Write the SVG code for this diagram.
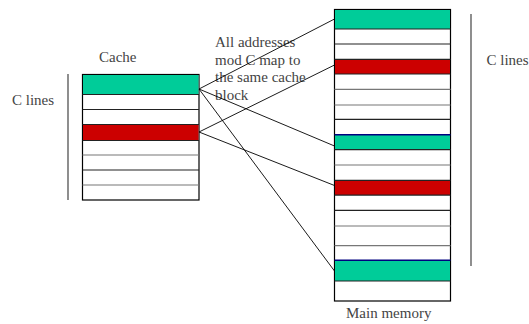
<svg xmlns="http://www.w3.org/2000/svg" width="529" height="324" viewBox="0 0 529 324">
  <style>
    .lbl { font-family: "Liberation Serif", "Times New Roman", serif; font-size: 15px; fill: #444; }
    .box { fill: #fff; stroke: #000; stroke-width: 1.2; }
    .green { fill: #00CC99; }
    .red { fill: #CC0000; }
    .sep { stroke: #222; stroke-width: 1.2; }
    .sepg { stroke: #777; stroke-width: 1.2; }
    .blue { stroke: #000080; stroke-width: 1.4; }
    .bar { stroke: #444; stroke-width: 1.2; }
    .conn { stroke: #000; stroke-width: 0.9; fill: none; }
  </style>
  <rect width="529" height="324" fill="#fff"/>

  <!-- cache -->
  <g id="cache">
    <rect class="box" x="82.5" y="74.5" width="116.5" height="125.5"/>
    <rect class="green" x="83" y="75" width="115.5" height="19"/>
    <rect class="red" x="83" y="125" width="115.5" height="15"/>
    <line class="sep" x1="82.5" y1="94.5" x2="199" y2="94.5"/>
    <line class="sep" x1="82.5" y1="109.5" x2="199" y2="109.5"/>
    <line class="sep" x1="82.5" y1="124.5" x2="199" y2="124.5"/>
    <line class="sep" x1="82.5" y1="140.5" x2="199" y2="140.5"/>
    <line class="sepg" x1="82.5" y1="155" x2="199" y2="155"/>
    <line class="sep" x1="82.5" y1="170" x2="199" y2="170"/>
    <line class="sepg" x1="82.5" y1="185" x2="199" y2="185"/>
    <text class="lbl" x="99" y="62">Cache</text>
  </g>

  <g id="cache-size">
    <line class="bar" x1="68" y1="74" x2="68" y2="200"/>
    <text class="lbl" x="12" y="105">C lines</text>
  </g>

  <!-- main memory -->
  <g id="main-memory">
    <rect class="box" x="334.5" y="9.5" width="116" height="291.5"/>
    <rect class="green" x="335" y="10" width="115" height="19"/>
    <rect class="red" x="335" y="59.5" width="115" height="14.5"/>
    <rect class="green" x="335" y="135" width="115" height="14.5"/>
    <rect class="red" x="335" y="180.5" width="115" height="14.5"/>
    <rect class="green" x="335" y="260.5" width="115" height="20.5"/>
    <line class="sep" x1="334.5" y1="29" x2="450.5" y2="29"/>
    <line class="sep" x1="334.5" y1="44" x2="450.5" y2="44"/>
    <line class="sep" x1="334.5" y1="59.3" x2="450.5" y2="59.3"/>
    <line class="sep" x1="334.5" y1="74" x2="450.5" y2="74"/>
    <line class="sepg" x1="334.5" y1="89.3" x2="450.5" y2="89.3"/>
    <line class="sepg" x1="334.5" y1="105" x2="450.5" y2="105"/>
    <line class="sep" x1="334.5" y1="119.3" x2="450.5" y2="119.3"/>
    <line class="blue" x1="334.5" y1="134.7" x2="450.5" y2="134.7"/>
    <line class="sep" x1="334.5" y1="149.7" x2="450.5" y2="149.7"/>
    <line class="sepg" x1="334.5" y1="165" x2="450.5" y2="165"/>
    <line class="sep" x1="334.5" y1="180.3" x2="450.5" y2="180.3"/>
    <line class="sep" x1="334.5" y1="195.2" x2="450.5" y2="195.2"/>
    <line class="sep" x1="334.5" y1="210.3" x2="450.5" y2="210.3"/>
    <line class="sepg" x1="334.5" y1="226" x2="450.5" y2="226"/>
    <line class="sepg" x1="334.5" y1="245.7" x2="450.5" y2="245.7"/>
    <line class="blue" x1="334.5" y1="260.3" x2="450.5" y2="260.3"/>
    <line class="sep" x1="334.5" y1="281" x2="450.5" y2="281"/>
    <text class="lbl" x="346" y="318">Main memory</text>
  </g>

  <g id="memory-size">
    <line class="bar" x1="471" y1="14" x2="471" y2="266"/>
    <text class="lbl" x="486.5" y="65">C lines</text>
  </g>

  <!-- note on the mapping -->
  <g id="note">
    <text class="lbl" x="215" y="47">All addresses</text>
    <text class="lbl" x="215" y="64.5">mod C map to</text>
    <text class="lbl" x="215" y="82">the same cache</text>
    <text class="lbl" x="215" y="99.5">block</text>
  </g>

  <!-- mapping lines -->
  <g id="connectors">
    <line class="conn" x1="199" y1="89" x2="334.5" y2="19"/>
    <line class="conn" x1="199" y1="89" x2="334.5" y2="146"/>
    <line class="conn" x1="199" y1="89" x2="334.5" y2="271"/>
    <line class="conn" x1="199" y1="132" x2="334.5" y2="65"/>
    <line class="conn" x1="199" y1="132" x2="334.5" y2="185.5"/>
  </g>
</svg>
